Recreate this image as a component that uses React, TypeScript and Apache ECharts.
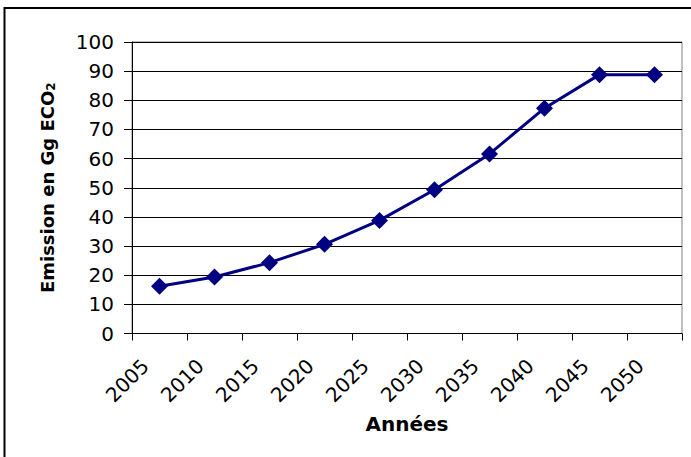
import React, { useEffect, useRef } from "react";
import * as echarts from "echarts";

const years = ["2005", "2010", "2015", "2020", "2025", "2030", "2035", "2040", "2045", "2050"];
const emissions = [16.2, 19.4, 24.3, 30.6, 38.8, 49.3, 61.6, 77.3, 88.8, 88.8];
const yMin = 0;
const yMax = 100;
const yStep = 10;
const xTitle = "Années";
const yTitleMain = "Emission en Gg ECO";
const yTitleSub = "2";

const FONT = "DejaVu Sans";

export default function App() {
  const ref = useRef<HTMLDivElement>(null);
  useEffect(() => {
    if (!ref.current) return;
    const chart = echarts.init(ref.current, null, { renderer: "svg" });
    chart.setOption({
      animation: false,
      backgroundColor: "#ffffff",
      grid: {
        left: 132,
        right: 9,
        top: 42,
        bottom: 123.5,
        show: true,
        borderColor: "#808080",
        borderWidth: 1,
        backgroundColor: "transparent",
      },
      graphic: [
        {
          type: "rect",
          shape: { x: 4.5, y: 8, width: 720, height: 480 },
          style: { fill: "none", stroke: "#000", lineWidth: 2 },
          silent: true,
          z: 100,
        },
      ],
      xAxis: {
        type: "category",
        data: years,
        boundaryGap: true,
        axisLine: { show: true, lineStyle: { color: "#000", width: 1 } },
        axisTick: { show: true, length: 7, interval: 0, lineStyle: { color: "#000" } },
        axisLabel: {
          interval: 0,
          rotate: 45,
          margin: 15,
          padding: [0, 20, 0, 0],
          fontFamily: FONT,
          fontSize: 20,
          color: "#000",
        },
        splitLine: { show: false },
        name: xTitle,
        nameLocation: "middle",
        nameGap: 80,
        nameTextStyle: { fontFamily: FONT, fontSize: 20, fontWeight: "bold", color: "#000" },
      },
      yAxis: {
        type: "value",
        min: yMin,
        max: yMax,
        interval: yStep,
        axisLine: { show: true, lineStyle: { color: "#000", width: 1 } },
        axisTick: { show: true, length: 8, lineStyle: { color: "#000" } },
        axisLabel: { margin: 18, fontFamily: FONT, fontSize: 20, color: "#000" },
        splitLine: { show: true, lineStyle: { color: "#000", width: 1 } },
        name: `{a|${yTitleMain}}{b|${yTitleSub}}`,
        nameLocation: "middle",
        nameRotate: 90,
        nameGap: 74,
        nameTextStyle: {
          fontFamily: FONT,
          fontSize: 18,
          fontWeight: "bold",
          color: "#000",
          rich: {
            a: { fontFamily: FONT, fontSize: 18, fontWeight: "bold", color: "#000", lineHeight: 22 },
            b: {
              fontFamily: FONT,
              fontSize: 12,
              fontWeight: "bold",
              color: "#000",
              lineHeight: 12,
              verticalAlign: "bottom",
              padding: [0, 0, 1, 0],
            },
          },
        },
      },
      series: [
        {
          type: "line",
          data: emissions,
          symbol: "diamond",
          symbolSize: 17,
          lineStyle: { color: "#000080", width: 3 },
          itemStyle: { color: "#000080" },
          z: 10,
        },
      ],
    });
    return () => chart.dispose();
  }, []);
  return (
    <div
      ref={ref}
      style={{ position: "fixed", left: 0, top: 0, width: 691, height: 457, background: "#fff" }}
    />
  );
}
